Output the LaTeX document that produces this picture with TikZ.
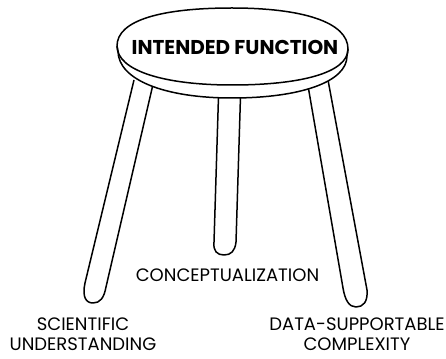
\documentclass[tikz,border=0pt]{standalone}
\usepackage{fontspec}
\setmainfont{Poppins}
\begin{document}
\begin{tikzpicture}[x=1pt,y=-1pt,line width=1.5pt,line join=round,
  outline/.style={draw=black,line width=1.5pt},
  label/.style={font=\fontsize{18}{20}\selectfont,align=center,inner sep=0pt},
  seatlabel/.style={font=\fontsize{20}{22}\selectfont\bfseries,inner sep=0pt}]
\useasboundingbox (0,0) rectangle (446,358);
% legs (tops are hidden under the seat)
\draw[outline] (134,80) -- (85,283)
  .. controls (82,297) and (86,303) .. (93,303)
  .. controls (100,303) and (104,298) .. (106,287) -- (154,80);
\draw[outline] (219,80) -- (214,242)
  .. controls (213,251) and (217,255) .. (224,255)
  .. controls (231,255) and (235,251) .. (236,242) -- (241,80);
\draw[outline] (307,80) -- (343,288)
  .. controls (345,300) and (349,307) .. (356,307)
  .. controls (363,307) and (368,302) .. (367,290) -- (328,80);
% seat: rim and top
\coordinate (L) at (117,46);
\coordinate (R) at (348,49);
\fill[white] (L) -- (118,51) .. controls (118,80) and (165,98) .. (232,98)
  .. controls (300,98) and (347,82) .. (347,56) -- (R)
  .. controls (348,22) and (302,8) .. (232,8)
  .. controls (162,8) and (117,20) .. cycle;
\draw[outline] (L) -- (118,51) .. controls (118,80) and (165,98) .. (232,98)
  .. controls (300,98) and (347,82) .. (347,56) -- (R);
\draw[outline] (L) .. controls (117,71) and (165,85) .. (232,85)
  .. controls (300,85) and (348,73) .. (R)
  .. controls (348,22) and (302,8) .. (232,8)
  .. controls (162,8) and (117,20) .. cycle;
\node[seatlabel,anchor=base] (top) at (235,55) {INTENDED FUNCTION};
% leg labels
\node[label,anchor=base] (mid) at (227.5,281) {CONCEPTUALIZATION};
\node[label,anchor=base] (left) at (83,350) {SCIENTIFIC\\UNDERSTANDING};
\node[label,anchor=base] (right) at (357,350) {DATA-SUPPORTABLE\\COMPLEXITY};
\end{tikzpicture}
\end{document}
